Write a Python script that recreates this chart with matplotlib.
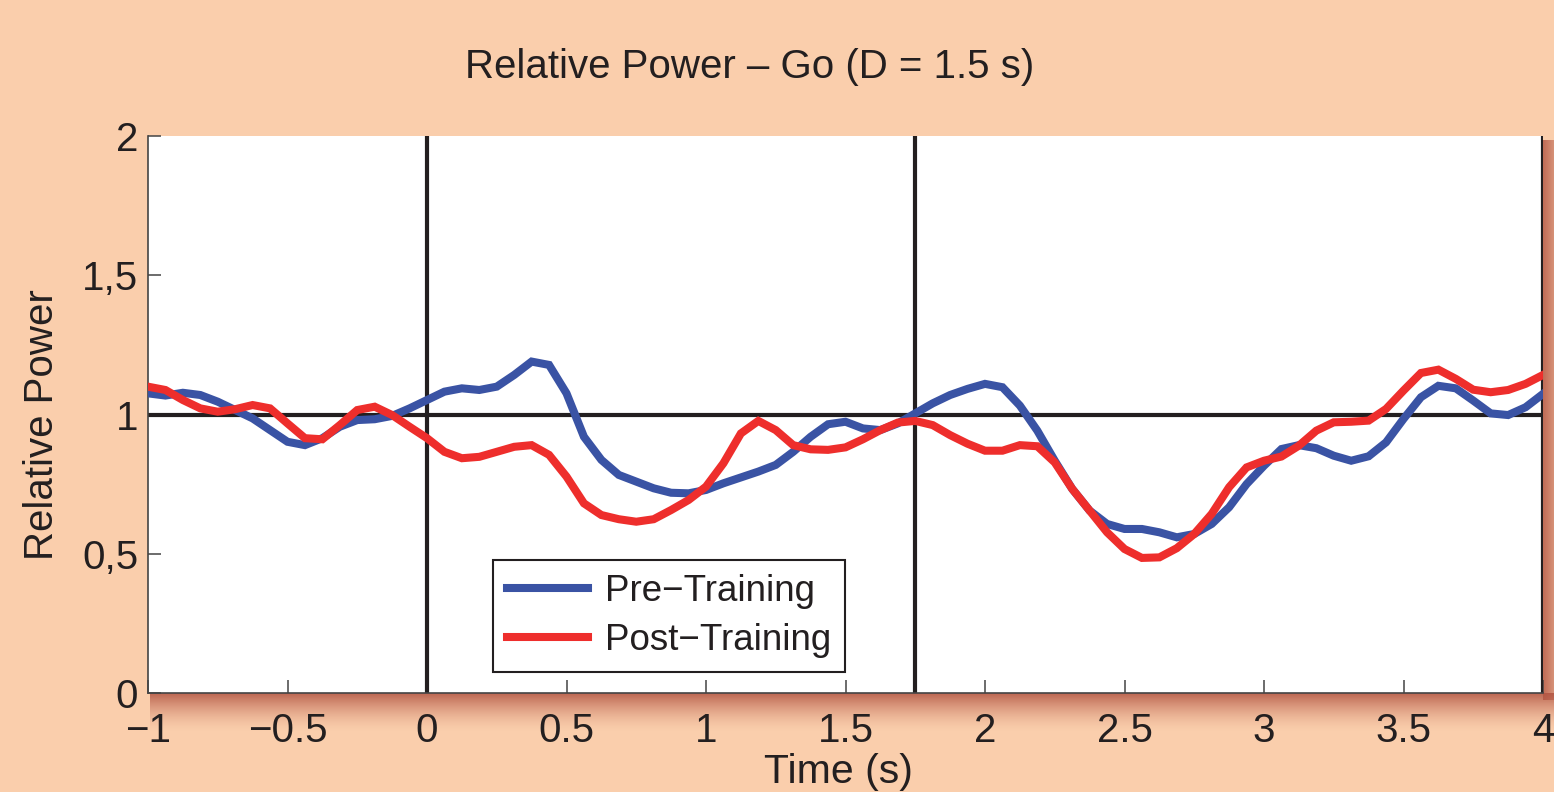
import numpy as np
import matplotlib
matplotlib.use("Agg")
import matplotlib.pyplot as plt
from matplotlib.lines import Line2D

# ---- data ----
t_start, t_end, n_samples = -1.0, 4.0, 81
time = np.linspace(t_start, t_end, n_samples)

pre_training = [
    1.076, 1.068, 1.078, 1.070, 1.046, 1.016, 0.986, 0.944, 0.902, 0.890,
    0.915, 0.956, 0.980, 0.983, 0.995, 1.022, 1.052, 1.082, 1.094, 1.088,
    1.100, 1.142, 1.190, 1.178, 1.076, 0.920, 0.837, 0.783, 0.759, 0.735,
    0.719, 0.717, 0.729, 0.753, 0.774, 0.795, 0.819, 0.866, 0.920, 0.965,
    0.974, 0.950, 0.944, 0.968, 1.004, 1.040, 1.070, 1.092, 1.110, 1.098,
    1.032, 0.942, 0.834, 0.733, 0.655, 0.607, 0.589, 0.589, 0.577, 0.559,
    0.571, 0.607, 0.667, 0.750, 0.816, 0.876, 0.890, 0.879, 0.852, 0.834,
    0.850, 0.900, 0.984, 1.062, 1.103, 1.094, 1.050, 1.004, 0.998, 1.026,
    1.074,
]
post_training = [
    1.100, 1.088, 1.052, 1.022, 1.010, 1.019, 1.034, 1.022, 0.968, 0.915,
    0.911, 0.962, 1.016, 1.028, 0.998, 0.956, 0.915, 0.866, 0.843, 0.848,
    0.866, 0.884, 0.890, 0.855, 0.777, 0.681, 0.639, 0.624, 0.615, 0.624,
    0.657, 0.693, 0.741, 0.825, 0.932, 0.977, 0.944, 0.890, 0.875, 0.873,
    0.882, 0.911, 0.944, 0.971, 0.977, 0.962, 0.926, 0.895, 0.870, 0.870,
    0.890, 0.886, 0.828, 0.733, 0.655, 0.577, 0.517, 0.485, 0.487, 0.520,
    0.571, 0.643, 0.739, 0.810, 0.834, 0.849, 0.888, 0.942, 0.972, 0.974,
    0.978, 1.020, 1.086, 1.149, 1.161, 1.128, 1.089, 1.080, 1.088, 1.110,
    1.142,
]
series_labels = ["Pre\u2212Training", "Post\u2212Training"]
event_times = [0.0, 1.75, 4.0]
baseline = 1.0

x_ticks = [-1, -0.5, 0, 0.5, 1, 1.5, 2, 2.5, 3, 3.5, 4]
x_ticklabels = ["\u22121", "\u22120.5", "0", "0.5", "1", "1.5", "2", "2.5", "3", "3.5", "4"]
y_ticks = [0, 0.5, 1, 1.5, 2]
y_ticklabels = ["0", "0,5", "1", "1,5", "2"]

title = "Relative Power \u2013 Go (D = 1.5 s)"
xlabel = "Time (s)"
ylabel = "Relative Power"

# ---- style ----
BG = "#FACEAC"
BLUE = "#3A53A4"
RED = "#EE2E2C"
INK = "#231F20"
font = ["Liberation Sans", "DejaVu Sans"]

W, H = 1554, 792
fig = plt.figure(figsize=(W / 100, H / 100), dpi=100, facecolor=BG)

# background decoration axes (shadows)
bg = fig.add_axes([0, 0, 1, 1], zorder=-10)
bg.set_xlim(0, W)
bg.set_ylim(H, 0)
bg.axis("off")
shadow = np.array([0.70, 0.33, 0.26])
h = 40
grad = np.linspace(1, 0, h) ** 1.6
img = np.zeros((h, 1, 4))
img[:, 0, :3] = shadow
img[:, 0, 3] = 0.85 * grad
bg.imshow(img, extent=(150, 1554, 693 + h, 693), aspect="auto", interpolation="bilinear")
w2 = 12
img2 = np.zeros((1, w2, 4))
img2[0, :, :3] = shadow
img2[0, :, 3] = 0.8 * np.linspace(1, 0.6, w2)
bg.imshow(img2, extent=(1543, 1543 + w2, 700, 140), aspect="auto", interpolation="bilinear")

left, right, bottom, top = 148, 1543, 693, 136
ax = fig.add_axes([left / W, 1 - bottom / H, (right - left) / W, (bottom - top) / H])
ax.set_facecolor("white")

ax.plot(time, pre_training, color=BLUE, lw=5.8, solid_joinstyle="miter", zorder=3)
ax.plot(time, post_training, color=RED, lw=5.8, solid_joinstyle="miter", zorder=4)
ax.axhline(baseline, color=INK, lw=3.0, zorder=2)
for et in event_times:
    ax.axvline(et, color=INK, lw=3.0, zorder=2)

ax.set_xlim(-1, 4)
ax.set_ylim(0, 2)
ax.set_xticks(x_ticks)
ax.set_xticklabels(x_ticklabels, family=font, fontsize=29, color=INK)
ax.set_yticks(y_ticks)
ax.set_yticklabels(y_ticklabels, family=font, fontsize=29, color=INK)
ax.tick_params(axis="both", direction="in", length=9.5, width=1.1, color="#444444")
ax.tick_params(axis="x", pad=14)
ax.tick_params(axis="y", pad=7)
ax.spines["top"].set_visible(False)
ax.spines["right"].set_visible(False)
for s in ("left", "bottom"):
    ax.spines[s].set_color("#444444")
    ax.spines[s].set_linewidth(1.2)

handles = [Line2D([], [], color=BLUE, lw=5.8), Line2D([], [], color=RED, lw=5.8)]
leg = ax.legend(handles, series_labels, loc="lower left",
                bbox_to_anchor=(0.2473, 0.0377), borderaxespad=0,
                prop={"family": font, "size": 26.5}, frameon=True, fancybox=False,
                edgecolor=INK, facecolor="white", framealpha=1,
                handlelength=2.2, handletextpad=0.45, labelspacing=0.39,
                borderpad=0.38)
leg.get_frame().set_linewidth(1.5)
for txt in leg.get_texts():
    txt.set_color(INK)

fig.text(750 / W, 1 - 67 / H, title, family=font, fontsize=29, color=INK,
         ha="center", va="center")
fig.text(838 / W, 1 - 783 / H, xlabel, family=font, fontsize=29.5, color=INK,
         ha="center", va="baseline")
fig.text(42 / W, 1 - 425 / H, ylabel, family=font, fontsize=29, color=INK,
         ha="center", va="center", rotation=90)

fig.savefig("out.png", dpi=100, facecolor=BG)
